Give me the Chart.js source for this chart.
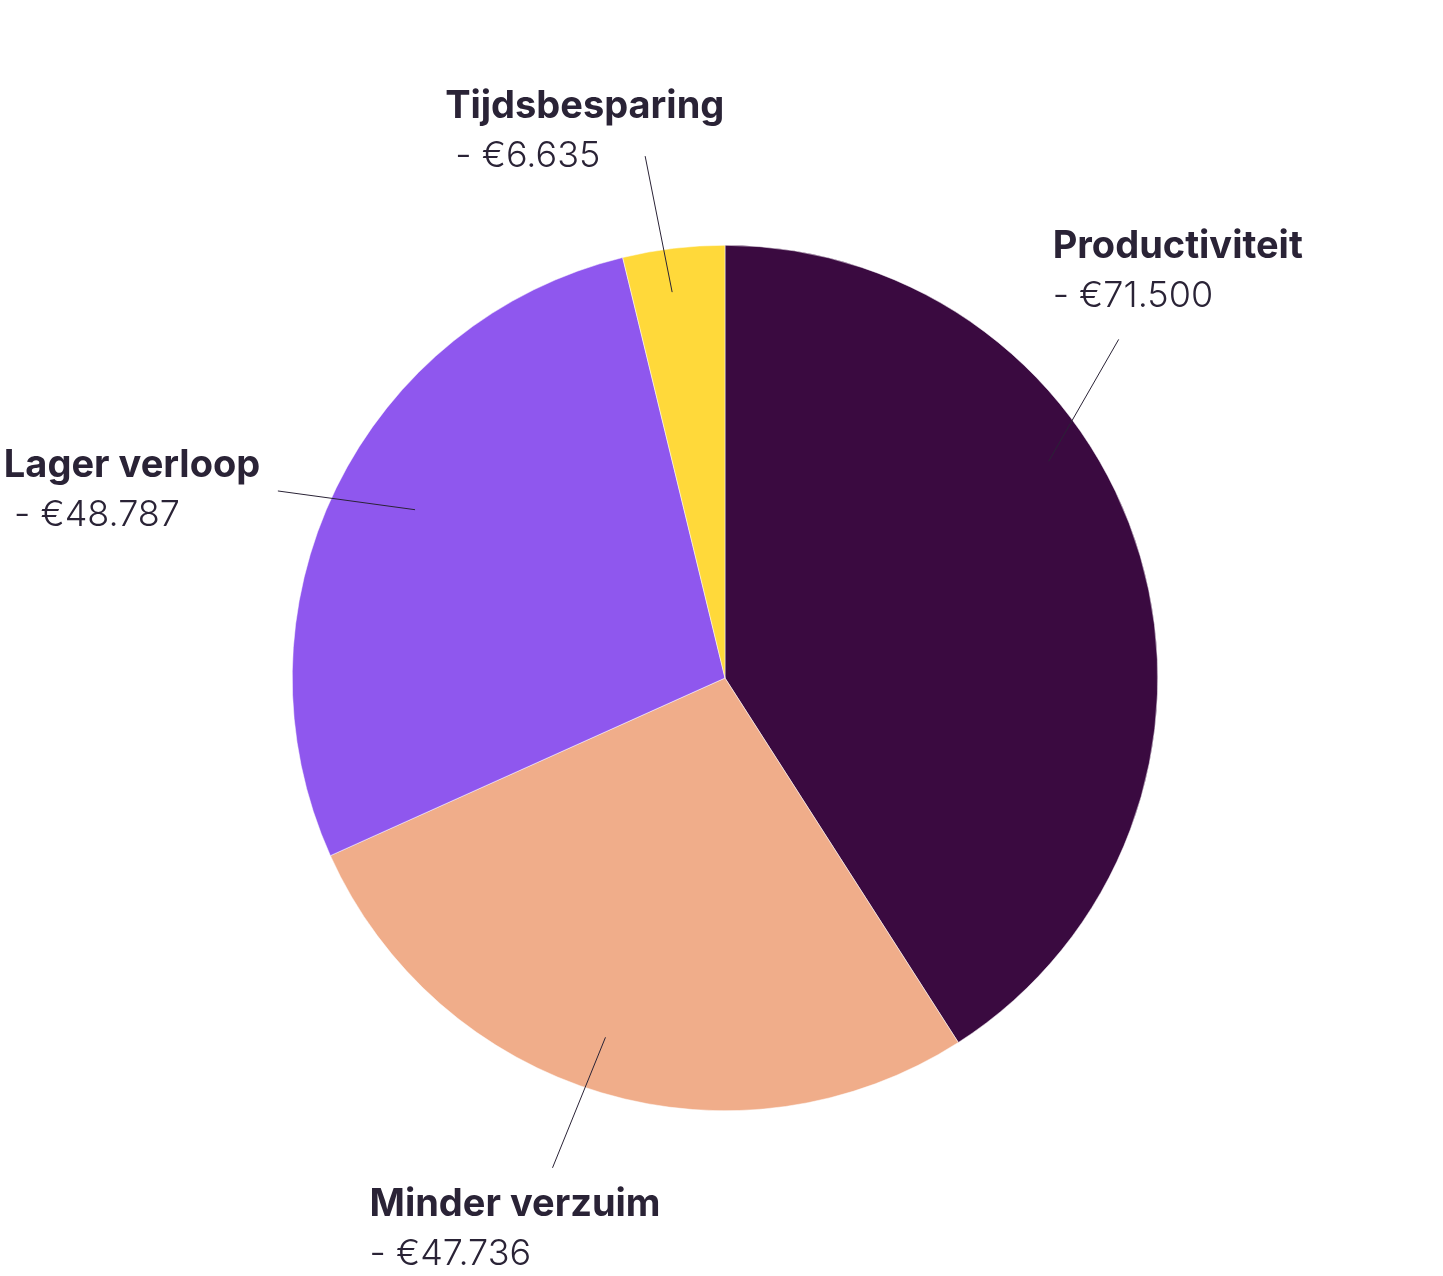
<!DOCTYPE html>
<html>
<head>
<meta charset="utf-8">
<script src="https://cdn.jsdelivr.net/npm/chart.js@4"></script>
<style>
  html, body { margin: 0; padding: 0; background: #fff; }
  #wrap { width: 1443px; height: 1276px; position: relative; }
</style>
</head>
<body>
<div id="wrap"><canvas id="pieChart"></canvas></div>
<script>
// Data
const categories = ["Productiviteit", "Minder verzuim", "Lager verloop", "Tijdsbesparing"];
const amounts = [71500, 47736, 48787, 6635];
const valueLabels = ["- €71.500", "- €47.736", " - €48.787", " - €6.635"];

const sliceColors = ["#3a0a40", "#f0ad8a", "#8f57ee", "#ffd93a"];

// Leader line placement per slice: [angle from top (deg), fraction of radius]
// and text offset relative to outer end of the line
const leaders = [
  { inner: [56.2, 0.90], outer: [49.3, 1.20], text: [-66, -81] },
  { inner: [198.4, 0.875], outer: [199.4, 1.20], text: [-183, 48] },
  { inner: [298.5, 0.815], outer: [292.7, 1.12], text: [-274, -14] },
  { inner: [352.2, 0.90], outer: [351.3, 1.22], text: [-200, -38] },
];

function polar(cx, cy, r, deg, frac) {
  const a = (deg * Math.PI) / 180;
  return { x: cx + Math.sin(a) * r * frac, y: cy - Math.cos(a) * r * frac };
}

// Draw leader lines and labels
const labelPlugin = {
  id: "leaderLabels",
  afterDraw(chart) {
    const ctx = chart.ctx;
    const arcs = chart.getDatasetMeta(0).data;
    ctx.save();
    arcs.forEach((arc, i) => {
      const cfg = leaders[i];
      const p1 = polar(arc.x, arc.y, arc.outerRadius, cfg.inner[0], cfg.inner[1]);
      const p2 = polar(arc.x, arc.y, arc.outerRadius, cfg.outer[0], cfg.outer[1]);
      ctx.beginPath();
      ctx.moveTo(p1.x, p1.y);
      ctx.lineTo(p2.x, p2.y);
      ctx.strokeStyle = "#2a2336";
      ctx.lineWidth = 1;
      ctx.stroke();

      const tx = p2.x + cfg.text[0];
      const ty = p2.y + cfg.text[1];
      ctx.fillStyle = "#2a2336";
      ctx.textAlign = "left";
      ctx.textBaseline = "alphabetic";
      ctx.font = "bold 38px Inter, 'Open Sans', sans-serif";
      ctx.fillText(categories[i], tx, ty);
      ctx.font = "300 36px Inter, 'Open Sans', sans-serif";
      ctx.fillText(valueLabels[i], tx, ty + 49);
    });
    ctx.restore();
  },
};

const ctx = document.getElementById("pieChart").getContext("2d");

new Chart(ctx, {
  type: "pie",
  data: {
    labels: categories,
    datasets: [
      {
        data: amounts,
        backgroundColor: sliceColors,
        borderColor: "#ffffff",
        borderWidth: 0.5,
      },
    ],
  },
  options: {
    responsive: true,
    maintainAspectRatio: false,
    animation: false,
    layout: {
      padding: { top: 245, bottom: 165, left: 292, right: 285 },
    },
    plugins: {
      legend: { display: false },
      tooltip: { enabled: false },
    },
  },
  plugins: [labelPlugin],
});
</script>
</body>
</html>
